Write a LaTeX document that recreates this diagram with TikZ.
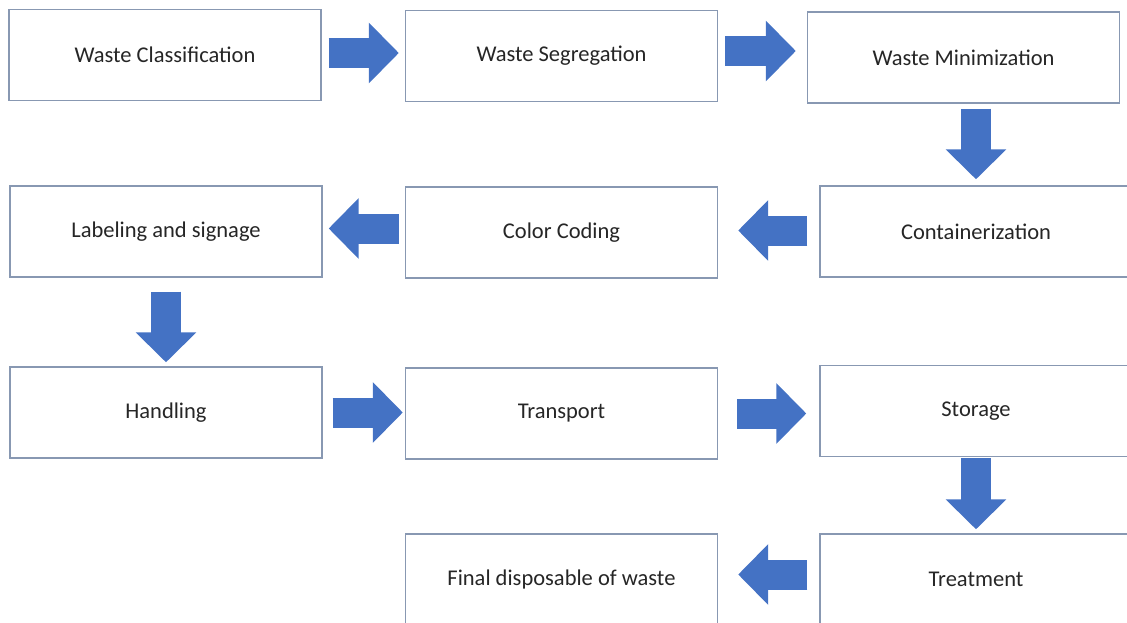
\documentclass[tikz,border=0pt]{standalone}
\usepackage{fontspec}
\setmainfont{Carlito}
\usetikzlibrary{arrows.meta}
\definecolor{boxline}{RGB}{136,152,178}
\definecolor{arrowblue}{RGB}{68,114,196}
\tikzset{
  stepbox/.style={draw=boxline, line width=1.4pt, fill=white, minimum width=312pt, minimum height=91pt, inner sep=0pt, font=\fontsize{22.5}{27}\selectfont, text=black!85},
  blockarrow/.style={draw=arrowblue, line width=30pt, -{Triangle[length=30pt,width=59pt]}},
}
\begin{document}
\begin{tikzpicture}[x=1pt,y=-1pt]
\useasboundingbox (0,0) rectangle (1127,623);
\clip (0,0) rectangle (1127,623);
\node[stepbox] (wc) at (165,55) {Waste Classification};
\node[stepbox] (ws) at (561.5,56) {Waste Segregation};
\node[stepbox] (wm) at (963.5,57.5) {Waste Minimization};
\node[stepbox] (lab) at (166,231.5) {Labeling and signage};
\node[stepbox] (cc) at (561.5,232.5) {Color Coding};
\node[stepbox] (cont) at (976,231.5) {Containerization};
\node[stepbox] (hand) at (166,412.5) {Handling};
\node[stepbox] (tr) at (561.5,413.5) {Transport};
\node[stepbox] (st) at (976,411) {Storage};
\node[stepbox] (fd) at (561.5,579.5) {Final disposable of waste};
\node[stepbox] (tm) at (976,579.5) {Treatment};
% connectors
\draw[blockarrow, shorten <=7pt, shorten >=6pt] ([yshift=2pt]wc.east) -- ([yshift=2pt]wc.east -| ws.west);
\draw[blockarrow, shorten <=7pt, shorten >=11pt] ([yshift=5pt]ws.east) -- ([yshift=5pt]ws.east -| wm.west);
\draw[blockarrow, shorten <=5pt, shorten >=6pt] (wm.south -| cont.north) -- (cont.north);
\draw[blockarrow, shorten <=12pt, shorten >=20pt] ([yshift=1pt]cont.west) -- ([yshift=1pt]cont.west -| cc.east);
\draw[blockarrow, shorten <=6pt, shorten >=6pt] ([yshift=4pt]cc.west) -- ([yshift=4pt]cc.west -| lab.east);
\draw[blockarrow, shorten <=14pt, shorten >=4pt] (lab.south) -- (hand.north);
\draw[blockarrow, shorten <=10pt, shorten >=2pt] (hand.east) -- (hand.east -| tr.west);
\draw[blockarrow, shorten <=19pt, shorten >=13pt] (tr.east) -- (tr.east -| st.west);
\draw[blockarrow, shorten <=1pt, shorten >=4pt] (st.south) -- (tm.north);
\draw[blockarrow, shorten <=12pt, shorten >=20pt] ([yshift=5pt]tm.west) -- ([yshift=5pt]tm.west -| fd.east);
\end{tikzpicture}
\end{document}
